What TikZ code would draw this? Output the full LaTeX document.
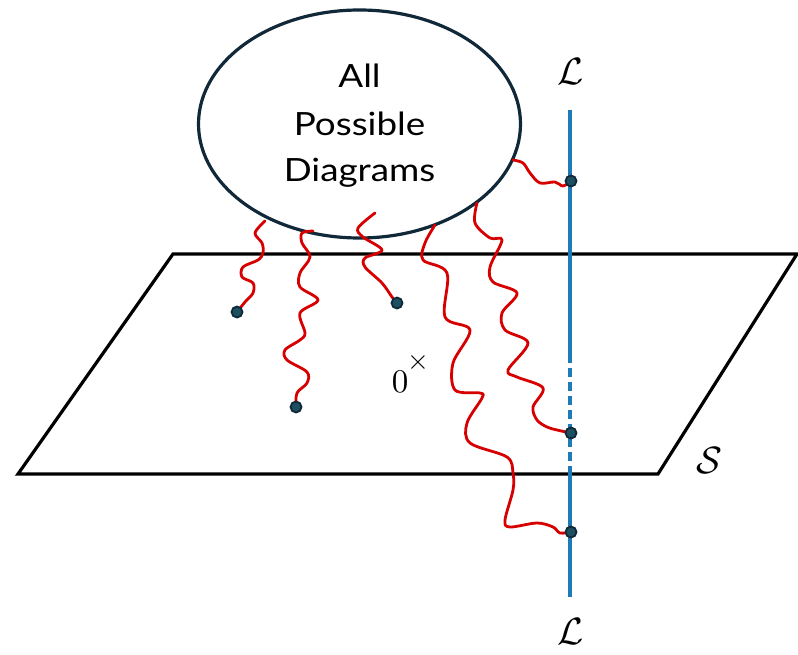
\documentclass[tikz,border=0pt]{standalone}
\usepackage{fontspec}
\newfontfamily\ellfont[FakeStretch=1.15]{Lato}
\usetikzlibrary{shapes.geometric}
\definecolor{navy}{RGB}{16,40,56}
\definecolor{lblue}{RGB}{31,122,184}
\definecolor{wred}{RGB}{215,0,0}
\definecolor{dotfill}{RGB}{28,80,96}
\begin{document}
\begin{tikzpicture}[x=1pt,y=-1pt,
  plane/.style={draw=black,line width=3.2pt,line join=miter},
  lline/.style={draw=lblue,line width=3.2pt},
  wig/.style={draw=wred,line width=2.8pt,line join=round,line cap=round},
  pt/.style={circle,draw=navy,fill=dotfill,line width=1.8pt,minimum size=11pt,inner sep=0pt},
  etxt/.style={anchor=base,font=\ellfont\fontsize{32}{38}\selectfont,inner sep=0pt},
  mlab/.style={font=\normalsize,scale=3.8,inner sep=0pt}]
\useasboundingbox (0,0) rectangle (798,655);
% plane
\coordinate (p1) at (173,254);
\coordinate (p2) at (797,254);
\coordinate (p3) at (658,474);
\coordinate (p4) at (18,474);
\draw[plane] (p1) -- (p2) -- (p3) -- (p4) -- cycle;
% ellipse
\node[ellipse,draw=navy,line width=3.2pt,minimum width=322pt,minimum height=228pt,inner sep=0pt] (all) at (359.5,124) {};
\node[etxt] (t1) at (359.5,88) {All};
\node[etxt] (t2) at (359.5,136) {Possible};
\node[etxt] (t3) at (359.5,182) {Diagrams};
% blue line
\coordinate (ltop) at (570,110);
\coordinate (lda) at (570,354);
\coordinate (ldb) at (570,474);
\coordinate (lbot) at (570,597);
\draw[lline] (ltop) -- (lda);
\draw[lline,dash pattern=on 9pt off 5pt] (lda) -- (ldb);
\draw[lline] (ldb) -- (lbot);
% dot positions
\coordinate (d1) at (237,312);
\coordinate (d2) at (296,407);
\coordinate (d3) at (397,303);
\coordinate (d4) at (571,181);
\coordinate (d5) at (571,433);
\coordinate (d6) at (571,532);
% wiggles
\draw[wig] plot[smooth,tension=0.55] coordinates {(265,221) (255,233) (262,243) (263,253) (258,260) (243,267) (242,277) (253,283) (253,293) (245,302) (d1)};
\draw[wig] plot[smooth,tension=0.55] coordinates {(313,231) (302,233) (302,243) (310,257) (300,273) (300,287) (318,300) (300,313) (305,333) (300,340) (285,350) (287,360) (307,372) (307,383) (297,393) (d2)};
\draw[wig] plot[smooth,tension=0.55] coordinates {(375,213) (358,228) (363,237) (382,250) (365,258) (365,267) (382,283) (392,297) (d3)};
\draw[wig] plot[smooth,tension=0.55] coordinates {(513,160) (523,163) (530,173) (540,183) (555,182) (563,186) (d4)};
\draw[wig] plot[smooth,tension=0.55] coordinates {(477,203) (475,223) (490,238) (502,240) (490,267) (493,282) (517,293) (502,313) (505,330) (528,343) (508,370) (517,377) (543,388) (533,407) (537,420) (547,427) (557,430) (d5)};
\draw[wig] plot[smooth,tension=0.55] coordinates {(435,225) (425,243) (423,260) (447,273) (445,317) (470,330) (453,363) (455,390) (480,393) (482,398) (467,423) (470,443) (507,457) (513,473) (513,490) (505,520) (510,527) (537,523) (553,527) (560,533) (d6)};
% dots
\foreach \d in {d1,d2,d3,d4,d5,d6} \node[pt] (n\d) at (\d) {};
% labels
\node[mlab] (L1) at (571,72) {$\mathcal{L}$};
\node[mlab] (L2) at (571,632) {$\mathcal{L}$};
\node[mlab] (S) at (709,461) {$\mathcal{S}$};
\node[font=\normalsize,scale=3.3,inner sep=0pt] (zero) at (400,382) {$0$};
\node[font=\normalsize,scale=2.8,inner sep=0pt] (times) at (418,362) {$\times$};
\end{tikzpicture}
\end{document}
